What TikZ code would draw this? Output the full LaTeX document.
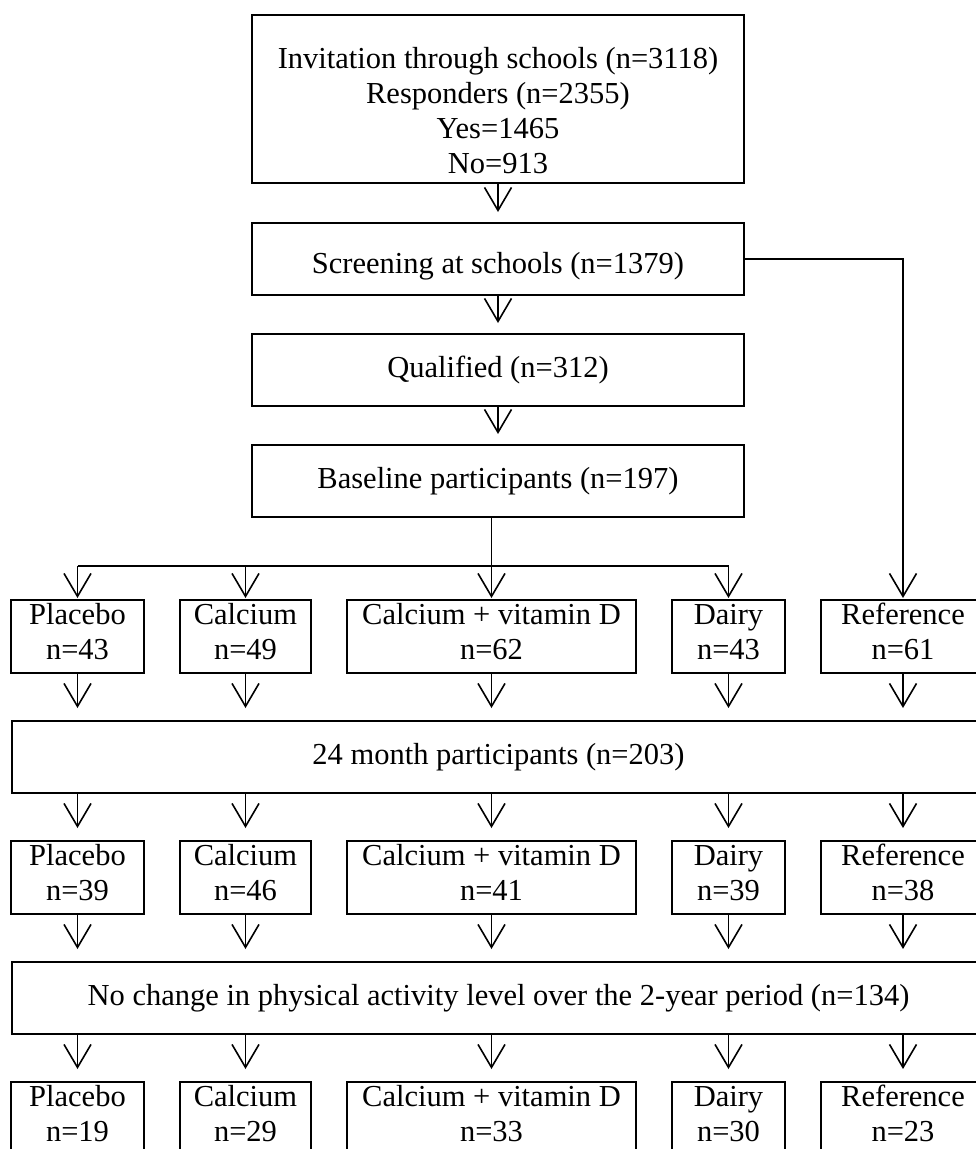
\documentclass[tikz,border=0pt]{standalone}
\usepackage{fontspec}
\setmainfont{Liberation Serif}
\usetikzlibrary{arrows.meta, positioning, calc}

\begin{document}
\begin{tikzpicture}[x=1pt, y=1pt, node distance=36pt]
  \tikzstyle{stage} = [rectangle, draw=black, line width=1.6pt, inner sep=0pt, outer sep=0pt, text centered, align=center, font=\fontsize{30.5}{35}\selectfont]
  \tikzstyle{wide} = [stage, minimum width=492pt, minimum height=72pt]
  \tikzstyle{band} = [stage, minimum width=973pt, minimum height=72pt]
  \tikzstyle{group} = [stage, minimum height=73pt, text depth=10pt]
  \tikzstyle{arrow} = [line width=1.6pt, -{Straight Barb[length=23pt, width=27pt]}]
  \tikzstyle{link} = [line width=1.6pt]

  \useasboundingbox (0,0) rectangle (976,-1149);

  % recruitment
  \node (invite) [wide, minimum height=168pt] at (498,-99) {\rule{0pt}{45pt}Invitation through schools (n=3118)\\Responders (n=2355)\\Yes=1465\\No=913};
  \node (screen) [wide, below=40pt of invite] {\rule{0pt}{36pt}Screening at schools (n=1379)};
  \node (qual) [wide, below=39pt of screen] {Qualified (n=312)};
  \node (base) [wide, below=39pt of qual] {Baseline participants (n=197)};

  % groups at baseline
  \node (plac1) [group, minimum width=133pt] at (77.5,-636.5) {Placebo\\n=43};
  \node (calc1) [group, minimum width=131pt, right=of plac1] {Calcium\\n=49};
  \node (cvd1) [group, minimum width=289pt, right=of calc1] {Calcium + vitamin D\\n=62};
  \node (dairy1) [group, minimum width=113pt, right=of cvd1] {Dairy\\n=43};
  \node (ref1) [group, minimum width=164pt, right=of dairy1] {Reference\\n=61};

  \node (month) [band, below right=48pt and 1pt of plac1.south west] {24 month participants (n=203)};

  % groups at 24 months
  \node (plac2) [group, minimum width=133pt, below=168pt of plac1] {Placebo\\n=39};
  \node (calc2) [group, minimum width=131pt, below=168pt of calc1] {Calcium\\n=46};
  \node (cvd2) [group, minimum width=289pt, below=168pt of cvd1] {Calcium + vitamin D\\n=41};
  \node (dairy2) [group, minimum width=113pt, below=168pt of dairy1] {Dairy\\n=39};
  \node (ref2) [group, minimum width=164pt, below=168pt of ref1] {Reference\\n=38};

  \node (change) [band, below right=48pt and 1pt of plac2.south west] {No change in physical activity level over the 2-year period (n=134)};

  % final groups
  \node (plac3) [group, minimum width=133pt, below=168pt of plac2] {Placebo\\n=19};
  \node (calc3) [group, minimum width=131pt, below=168pt of calc2] {Calcium\\n=29};
  \node (cvd3) [group, minimum width=289pt, below=168pt of cvd2] {Calcium + vitamin D\\n=33};
  \node (dairy3) [group, minimum width=113pt, below=168pt of dairy2] {Dairy\\n=30};
  \node (ref3) [group, minimum width=164pt, below=168pt of ref2] {Reference\\n=23};

  \draw [arrow, shorten >=11pt] (invite) -- (screen);
  \draw [arrow, shorten >=11pt] (screen) -- (qual);
  \draw [arrow, shorten >=11pt] (qual) -- (base);

  \coordinate (split) at ($(cvd1 |- base.south)+(0,-49)$);
  \draw [link] (cvd1 |- base.south) -- (split);
  \draw [link] (plac1 |- split) -- (dairy1 |- split);
  \foreach \g in {plac,calc,cvd,dairy}
    \draw [arrow, shorten >=2pt] (\g1 |- split) -- (\g1.north);
  \draw [arrow, shorten >=2pt] (screen.east) -| (ref1.north);

  \foreach \g in {plac,calc,cvd,dairy,ref} {
    \draw [arrow, shorten >=13pt] (\g1.south) -- (\g1 |- month.north);
    \draw [arrow, shorten >=13pt] (\g1 |- month.south) -- (\g2.north);
    \draw [arrow, shorten >=13pt] (\g2.south) -- (\g2 |- change.north);
    \draw [arrow, shorten >=13pt] (\g2 |- change.south) -- (\g3.north);
  }
\end{tikzpicture}
\end{document}
